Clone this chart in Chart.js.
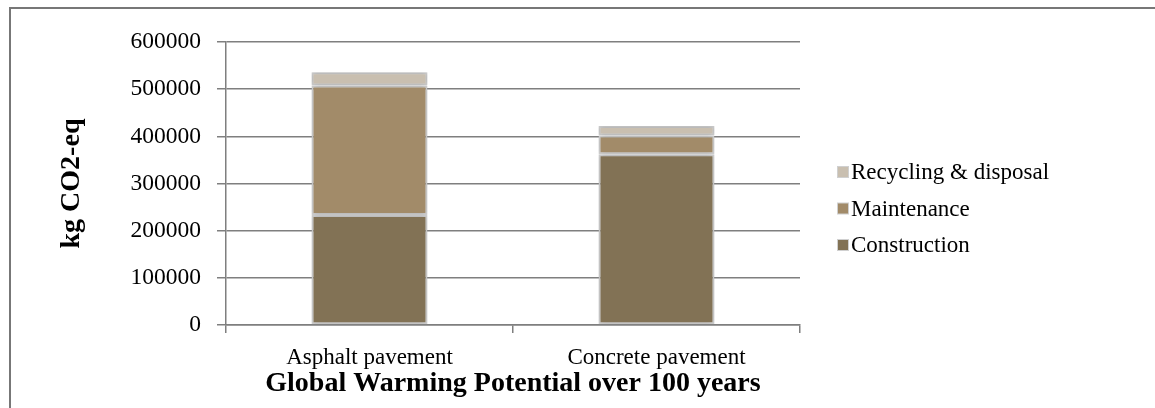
<!DOCTYPE html>
<html lang="en">
<head>
  <meta charset="UTF-8" />
  <title>Global Warming Potential over 100 years</title>
  <script src="https://cdn.jsdelivr.net/npm/chart.js"></script>
  <style>
    * {
      margin: 0;
      padding: 0;
      box-sizing: border-box;
    }
    html, body {
      background: #fff;
      overflow: hidden;
    }
    .frame {
      position: absolute;
      left: 9px;
      top: 7px;
      right: 0;
      bottom: 0;
      border-top: 2px solid #777;
      border-left: 2px solid #777;
    }
    #gwpChart {
      position: absolute;
      left: 0;
      top: 0;
    }
  </style>
</head>
<body>
  <div class="frame"></div>
  <canvas id="gwpChart" width="1155" height="408"></canvas>

  <script>
    const categories = ["Asphalt pavement", "Concrete pavement"];
    const seriesNames = ["Construction", "Maintenance", "Recycling & disposal"];
    const construction = [233000, 362000];
    const maintenance = [275000, 40000];
    const recycling = [28000, 20000];
    const yTicks = [0, 100000, 200000, 300000, 400000, 500000, 600000];

    const colors = ["#827255", "#a28b69", "#c9bfb0"];
    const serif = "'Liberation Serif', 'Times New Roman', serif";

    // legend drawn by hand so it sits where the original one is
    const sideLegend = {
      id: "sideLegend",
      afterDraw(chart) {
        const ctx = chart.ctx;
        const sets = chart.data.datasets.slice().reverse();
        ctx.save();
        ctx.font = "23px " + serif;
        ctx.textBaseline = "middle";
        sets.forEach((ds, i) => {
          const y = 172 + i * 36.5;
          ctx.fillStyle = "#d0d0d0";
          ctx.fillRect(837, y - 6, 12, 12);
          ctx.fillStyle = ds.backgroundColor;
          ctx.fillRect(838, y - 5, 10, 10);
          ctx.fillStyle = "#000";
          ctx.fillText(ds.label, 851, y + 1);
        });
        ctx.restore();
      }
    };

    const barShadow = {
      id: "barShadow",
      beforeDatasetsDraw(chart) {
        const ctx = chart.ctx;
        ctx.save();
        ctx.shadowColor = "rgba(0,0,0,0.22)";
        ctx.shadowBlur = 5;
      },
      afterDatasetsDraw(chart) {
        chart.ctx.restore();
      }
    };

    const dataSeries = [construction, maintenance, recycling];

    new Chart(document.getElementById("gwpChart").getContext("2d"), {
      type: "bar",
      data: {
        labels: categories,
        datasets: seriesNames.map((name, i) => ({
          label: name,
          data: dataSeries[i],
          backgroundColor: colors[i],
          borderColor: "#cdcdcd",
          borderWidth: 2,
          borderSkipped: false,
          categoryPercentage: 1,
          barPercentage: 0.404
        }))
      },
      options: {
        responsive: false,
        animation: false,
        devicePixelRatio: 1,
        layout: {
          padding: { left: 0, right: 355, top: 42, bottom: 0 }
        },
        plugins: {
          legend: { display: false },
          tooltip: { enabled: false }
        },
        scales: {
          x: {
            stacked: true,
            grid: {
              offset: true,
              drawOnChartArea: false,
              color: "#7f7f7f",
              lineWidth: 1.5,
              tickLength: 8
            },
            border: { color: "#7f7f7f", width: 1.5 },
            ticks: {
              color: "#000",
              padding: 11,
              font: { family: serif, size: 23 }
            },
            title: {
              display: true,
              text: "Global Warming Potential over 100 years",
              color: "#000",
              padding: { top: 0, bottom: 7 },
              font: { family: serif, size: 28, weight: "bold" }
            },
            afterFit(scale) {
              scale.height = 83;
            }
          },
          y: {
            stacked: true,
            min: 0,
            max: 600000,
            afterBuildTicks(scale) {
              scale.ticks = yTicks.map(v => ({ value: v }));
            },
            grid: {
              color: "#7f7f7f",
              lineWidth: 1.5,
              tickLength: 9
            },
            border: { color: "#7f7f7f", width: 1.5 },
            ticks: {
              color: "#000",
              padding: 16,
              font: { family: serif, size: 23.5 },
              callback: v => String(v)
            },
            title: {
              display: true,
              text: "kg CO2-eq",
              color: "#000",
              padding: { top: 55, bottom: 0 },
              font: { family: serif, size: 28, weight: "bold" }
            },
            afterFit(scale) {
              scale.width = 226;
            }
          }
        }
      },
      plugins: [barShadow, sideLegend]
    });
  </script>
</body>
</html>
